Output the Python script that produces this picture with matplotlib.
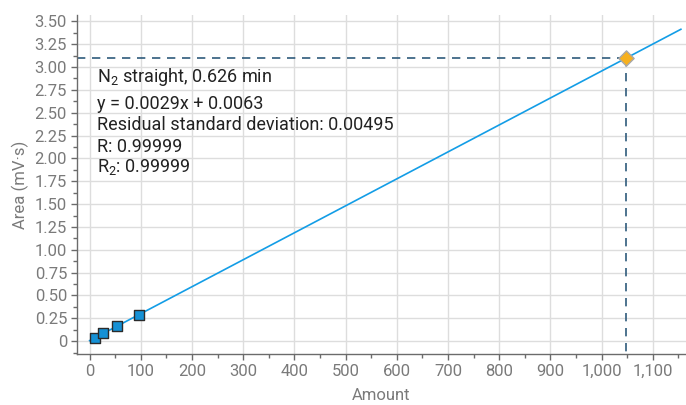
import matplotlib
matplotlib.use('Agg')
import matplotlib.pyplot as plt
from matplotlib.ticker import MultipleLocator, FuncFormatter
import numpy as np

plt.rcParams['font.family'] = ['Roboto', 'DejaVu Sans']
plt.rcParams['mathtext.fontset'] = 'custom'
plt.rcParams['mathtext.rm'] = 'Roboto'

# calibration standards
amount = [10, 26, 54, 96]
area = [0.036, 0.087, 0.168, 0.289]

# fitted line
slope = 0.00295
intercept = 0.0063
line_x = [0, 1155]

# unknown sample
sample_x = 1048
sample_y = 3.10

info_lines = [
    r'N$_{\mathregular{2}}$ straight, 0.626 min',
    'y = 0.0029x + 0.0063',
    'Residual standard deviation: 0.00495',
    'R: 0.99999',
    r'R$_{\mathregular{2}}$: 0.99999',
]
# baselines of the info lines, axes fraction
info_y = [0.803, 0.723, 0.662, 0.597, 0.536]

tick_col = '#7a7a7a'
grid_col = '#dddddd'
dash_col = '#2f5b7c'

fig = plt.figure(figsize=(6.86, 4.05), dpi=100)
ax = fig.add_axes([0.112, 0.126, 0.888, 0.837])

ax.grid(True, color=grid_col, linewidth=1.0, zorder=0)
ax.set_axisbelow(True)

lx = np.array(line_x)
ax.plot(lx, slope * lx + intercept, color='#139de6', linewidth=1.2, zorder=3)

# guide lines to the unknown sample
ax.plot([-25, sample_x], [sample_y, sample_y],
        linestyle=(0, (5, 4)), color=dash_col, linewidth=1.2, zorder=2)
ax.plot([sample_x, sample_x], [sample_y, -0.14],
        linestyle=(0, (5, 4)), color=dash_col, linewidth=1.2, zorder=2)

ax.scatter(amount, area, marker='s', s=55, facecolor='#1591d6',
           edgecolor='#2b2b2b', linewidth=1.0, zorder=4)
ax.scatter([sample_x], [sample_y], marker='D', s=60, facecolor='#f6b01e',
           edgecolor='#a8a8a8', linewidth=1.0, zorder=5)

ax.set_xlim(-25, 1165)
ax.set_ylim(-0.14, 3.57)

ax.xaxis.set_major_locator(MultipleLocator(100))
ax.xaxis.set_minor_locator(MultipleLocator(50))
ax.yaxis.set_major_locator(MultipleLocator(0.25))
ax.yaxis.set_minor_locator(MultipleLocator(0.125))
ax.xaxis.set_major_formatter(FuncFormatter(lambda v, p: '{:,.0f}'.format(v)))
ax.yaxis.set_major_formatter(FuncFormatter(lambda v, p: '0' if abs(v) < 1e-9 else '{:.2f}'.format(v)))

for s in ['top', 'right']:
    ax.spines[s].set_visible(False)
for s in ['left', 'bottom']:
    ax.spines[s].set_color('#6b6b6b')
    ax.spines[s].set_linewidth(1.0)

ax.tick_params(which='both', direction='out', color='#6b6b6b', width=1.0,
               labelcolor=tick_col, labelsize=12)
ax.tick_params(which='major', length=4, pad=3)
ax.tick_params(which='minor', length=3)

ax.set_xlabel('Amount', color=tick_col, fontsize=12, labelpad=7)
ax.set_ylabel('Area (mV\u00b7s)', color=tick_col, fontsize=12, labelpad=4)

for t, yy in zip(info_lines, info_y):
    ax.text(0.033, yy, t, transform=ax.transAxes, fontsize=13,
            color='#222222', va='baseline', ha='left', zorder=6)

fig.savefig('out.png', dpi=100)
